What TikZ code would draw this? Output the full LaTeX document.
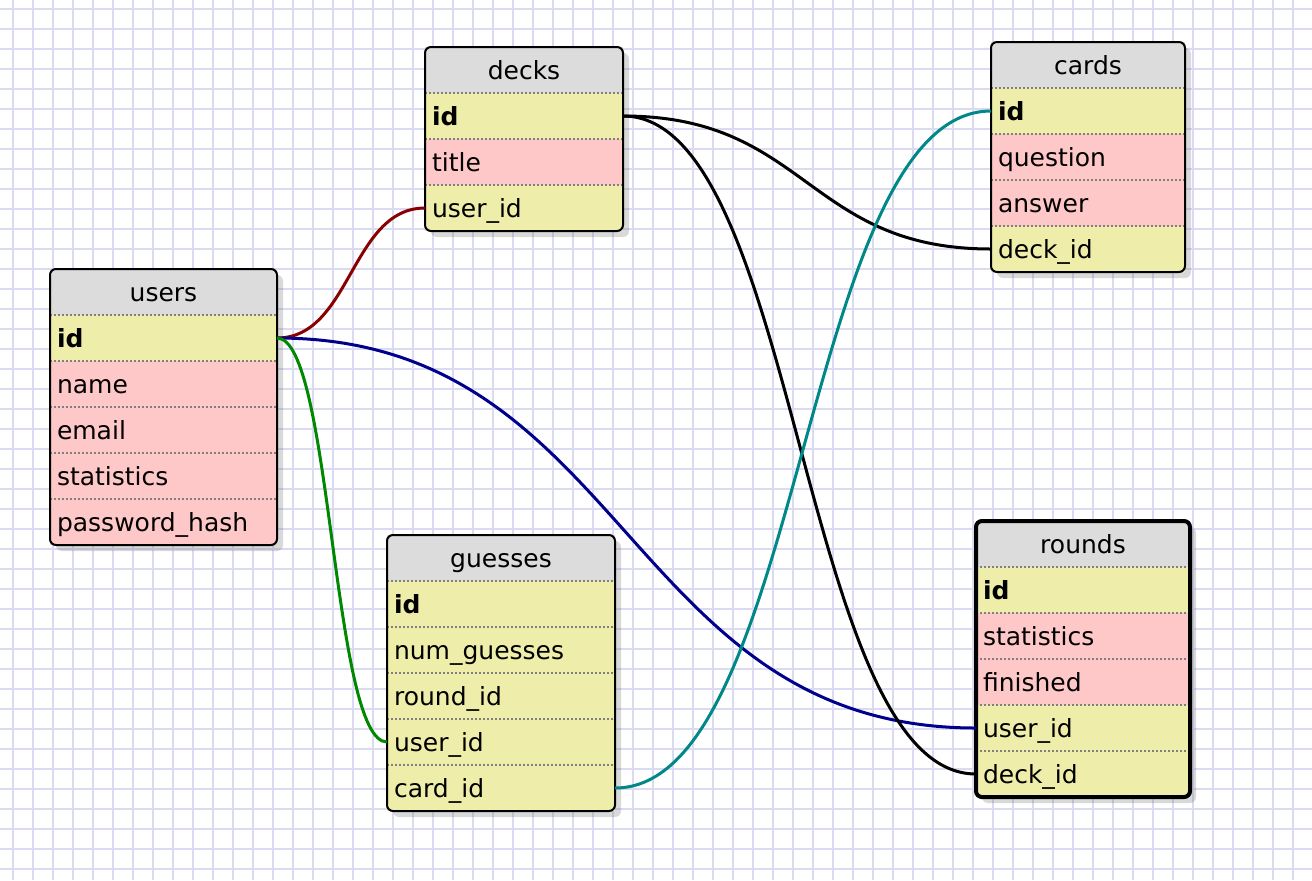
\documentclass[tikz,border=0pt]{standalone}
\usepackage{fontspec}
\setmainfont{DejaVu Sans}
\usetikzlibrary{positioning,fit,shadows,backgrounds}

\definecolor{gridcol}{RGB}{218,218,242}
\definecolor{headcol}{RGB}{220,220,220}
\definecolor{keycol}{RGB}{238,238,170}
\definecolor{attrcol}{RGB}{255,200,200}
\definecolor{sepcol}{RGB}{128,128,128}
\definecolor{relred}{RGB}{136,0,0}
\definecolor{relblue}{RGB}{0,0,140}
\definecolor{relgreen}{RGB}{0,136,0}
\definecolor{relteal}{RGB}{0,136,136}

\tikzset{
  field/.style={rectangle, inner xsep=3.5pt, inner ysep=0pt, outer sep=0pt,
    minimum height=23pt, text height=12pt, text depth=3pt, align=left,
    font=\fontsize{12.5}{15}\selectfont},
  tabhead/.style={field, fill=headcol, align=center, anchor=north west},
  pkey/.style={field, fill=keycol, font=\fontsize{12.5}{15}\selectfont\bfseries},
  fkey/.style={field, fill=keycol},
  attr/.style={field, fill=attrcol},
  rowsep/.style={sepcol, line width=0.9pt, dash pattern=on 1pt off 1pt},
  tabshadow/.style={rectangle, inner sep=0pt, outer sep=0pt, rounded corners=3pt, fill=white,
    drop shadow={shadow xshift=3pt, shadow yshift=-3pt, opacity=0.3}},
  tabborder/.style={draw=black, line width=1pt, rounded corners=3pt},
  rel/.style={line width=1.5pt},
  gridline/.style={gridcol, line width=1.2pt}
}

\begin{document}
\begin{tikzpicture}[x=0.5pt,y=-0.5pt]
\useasboundingbox (0,0) rectangle (1312,880);

% grid paper
\begin{scope}[on background layer]
\foreach \gx in {13,33,...,1313} \draw[gridline] (\gx,0) -- (\gx,880);
\foreach \gy in {9,29,...,889} \draw[gridline] (0,\gy) -- (1312,\gy);
\end{scope}

% users
\begin{scope}[every node/.append style={text width=106.5pt}]
\node[tabhead] (users) at (50,269) {users};
\node[pkey, below=0pt of users] (users-id) {id};
\node[attr, below=0pt of users-id] (users-name) {name};
\node[attr, below=0pt of users-name] (users-email) {email};
\node[attr, below=0pt of users-email] (users-stats) {statistics};
\node[attr, below=0pt of users-stats] (users-pw) {password\_hash};
\end{scope}
\begin{scope}[on background layer]
\node[tabshadow, fit=(users)(users-pw)] (users-box) {};
\end{scope}
\foreach \r in {id,name,email,stats,pw}
  \draw[rowsep] (users-\r.north west) -- (users-\r.north east);
\draw[tabborder] (users.north west) rectangle (users-pw.south east);

% decks
\begin{scope}[every node/.append style={text width=92pt}]
\node[tabhead] (decks) at (425,47) {decks};
\node[pkey, below=0pt of decks] (decks-id) {id};
\node[attr, below=0pt of decks-id] (decks-title) {title};
\node[fkey, below=0pt of decks-title] (decks-user) {user\_id};
\end{scope}
\begin{scope}[on background layer]
\node[tabshadow, fit=(decks)(decks-user)] (decks-box) {};
\end{scope}
\foreach \r in {id,title,user}
  \draw[rowsep] (decks-\r.north west) -- (decks-\r.north east);
\draw[tabborder] (decks.north west) rectangle (decks-user.south east);

% cards
\begin{scope}[every node/.append style={text width=90pt}]
\node[tabhead] (cards) at (991,42) {cards};
\node[pkey, below=0pt of cards] (cards-id) {id};
\node[attr, below=0pt of cards-id] (cards-q) {question};
\node[attr, below=0pt of cards-q] (cards-a) {answer};
\node[fkey, below=0pt of cards-a] (cards-deck) {deck\_id};
\end{scope}
\begin{scope}[on background layer]
\node[tabshadow, fit=(cards)(cards-deck)] (cards-box) {};
\end{scope}
\foreach \r in {id,q,a,deck}
  \draw[rowsep] (cards-\r.north west) -- (cards-\r.north east);
\draw[tabborder] (cards.north west) rectangle (cards-deck.south east);

% guesses
\begin{scope}[every node/.append style={text width=107pt}]
\node[tabhead] (guesses) at (387,535) {guesses};
\node[pkey, below=0pt of guesses] (guesses-id) {id};
\node[fkey, below=0pt of guesses-id] (guesses-num) {num\_guesses};
\node[fkey, below=0pt of guesses-num] (guesses-round) {round\_id};
\node[fkey, below=0pt of guesses-round] (guesses-user) {user\_id};
\node[fkey, below=0pt of guesses-user] (guesses-card) {card\_id};
\end{scope}
\begin{scope}[on background layer]
\node[tabshadow, fit=(guesses)(guesses-card)] (guesses-box) {};
\end{scope}
\foreach \r in {id,num,round,user,card}
  \draw[rowsep] (guesses-\r.north west) -- (guesses-\r.north east);
\draw[tabborder] (guesses.north west) rectangle (guesses-card.south east);

% rounds (selected)
\begin{scope}[every node/.append style={text width=100pt}]
\node[tabhead] (rounds) at (976,521) {rounds};
\node[pkey, below=0pt of rounds] (rounds-id) {id};
\node[attr, below=0pt of rounds-id] (rounds-stats) {statistics};
\node[attr, below=0pt of rounds-stats] (rounds-fin) {finished};
\node[fkey, below=0pt of rounds-fin] (rounds-user) {user\_id};
\node[fkey, below=0pt of rounds-user] (rounds-deck) {deck\_id};
\end{scope}
\begin{scope}[on background layer]
\node[tabshadow, fit=(rounds)(rounds-deck)] (rounds-box) {};
\end{scope}
\foreach \r in {id,stats,fin,user,deck}
  \draw[rowsep] (rounds-\r.north west) -- (rounds-\r.north east);
\draw[tabborder, line width=2pt] (rounds.north west) rectangle (rounds-deck.south east);

% relations
\draw[rel, relred] (users-id.east) .. controls +(74,0) and +(-74,0) .. (decks-user.west);
\draw[rel, relblue] (users-id.east) .. controls +(350,0) and +(-350,0) .. (rounds-user.west);
\draw[rel, relgreen] (users-id.east) .. controls +(55,0) and +(-55,0) .. (guesses-user.west);
\draw[rel] (decks-id.east) .. controls +(184,0) and +(-184,0) .. (cards-deck.west);
\draw[rel] (decks-id.east) .. controls +(176,0) and +(-176,0) .. (rounds-deck.west);
\draw[rel, relteal] (guesses-card.east) .. controls +(188,0) and +(-188,0) .. (cards-id.west);
\end{tikzpicture}
\end{document}
